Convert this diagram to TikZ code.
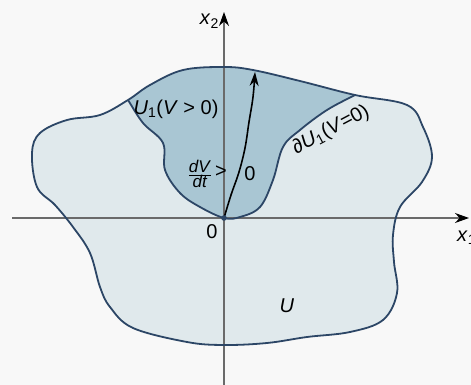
\documentclass[tikz,border=0pt]{standalone}
\usepackage{fontspec}
\setmainfont{Liberation Sans}
\usetikzlibrary{arrows.meta}
\definecolor{paper}{HTML}{F8F8F8}
\definecolor{regionU}{HTML}{E0E9EC}
\definecolor{regionUone}{HTML}{A9C6D3}
\definecolor{edge}{HTML}{2C4666}
\definecolor{axisgray}{HTML}{6A6A6A}

\begin{document}
\begin{tikzpicture}[
    x=1pt, y=-1pt,
    boundary/.style={draw=edge, line width=1.8pt},
    axisline/.style={draw=axisgray, line width=1.1pt, -{Stealth[length=14pt,width=10pt,color=black]}},
    label/.style={font=\fontsize{20}{20}\selectfont, inner sep=1pt},
    arrow/.style={-{Stealth[length=14pt,width=9pt]}, line width=1.6pt}
]
    \useasboundingbox (0,0) rectangle (471,385);
    \fill[paper] (0,0) rectangle (471,385);

    % region U
    \def\outerU{plot[smooth cycle, tension=0.6] coordinates {
        (224,67) (253,70) (300,81) (355,95) (407,105) (423,127) (432,157)
        (422,182) (400,207) (393,235) (394,262) (397,293) (383,320) (350,332)
        (307,337) (267,343) (224,345) (187,342) (133,328) (110,307) (100,287)
        (90,253) (73,227) (55,205) (37,187) (32,153) (40,133) (67,120)
        (100,115) (128,100) (150,85) (183,70)}}
    \def\innerU{plot[smooth, tension=0.6] coordinates {
        (122,91) (128,100) (143,123) (163,143) (165,170) (180,193) (200,207)
        (224,218) (240,217) (260,207) (273,180) (283,147) (300,130) (327,110)
        (355,95) (366,89)}}
    \fill[regionU] \outerU;

    % region U1
    \begin{scope}
        \clip \outerU;
        \fill[regionUone] \innerU -- (380,50) -- (110,50) -- cycle;
    \end{scope}

    % axes
    \coordinate (origin) at (224,218);
    \coordinate (xend) at (469,218);
    \coordinate (yend) at (224,12);
    \draw[axisline] (12,218) -- (xend);
    \draw[axisline] (224,385) -- (yend);

    % boundaries
    \begin{scope}
        \clip \outerU;
        \draw[boundary] \innerU;
    \end{scope}
    \draw[boundary] \outerU;

    % trajectory
    \coordinate (top) at (255,72);
    \draw[arrow] (origin) plot[smooth, tension=0.6] coordinates {
        (224,218) (231,195) (239,172) (245,148) (249,122) (253,97) (top)};
    \fill[edge] (origin) circle (2.8pt);

    % labels
    \node[label, anchor=base east] (xtwo) at (220,25) {\textit{x}\textsubscript{2}};
    \node[label, anchor=base west] (xone) at (456,241) {\textit{x}\textsubscript{1}};
    \node[label] (zero) at (212,232) {0};
    \node[label] (Ulabel) at (287,306) {\textit{U}};
    \node[label] (Uone) at (176,109) {\textit{U}\textsubscript{1}(\textit{V} > 0)};
    \node[label, rotate=28] (dUone) at (331,130) {∂\textit{U}\textsubscript{1}(\textit{V}=0)};
    \node[label, font=\fontsize{17}{17}\selectfont] (dVdt) at (200,174)
        {\(\frac{\mbox{\textit{dV}}}{\mbox{\textit{dt}}}\)};
    \node[label, anchor=west] (gt) at (214,172) {>};
    \node[label] (gtzero) at (250,174) {0};
\end{tikzpicture}
\end{document}
